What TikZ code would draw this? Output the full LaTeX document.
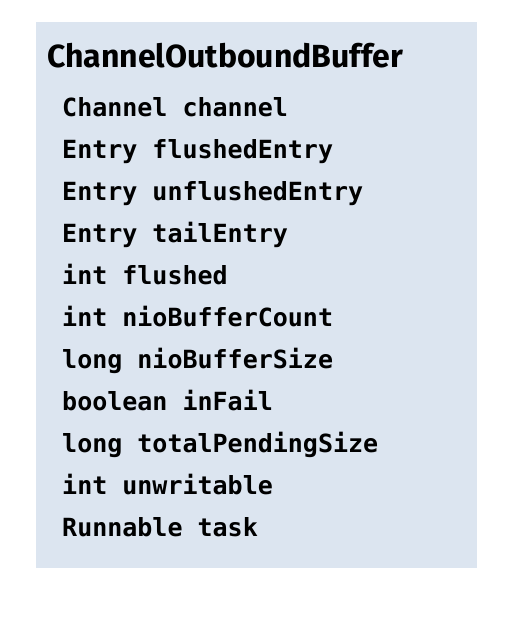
\documentclass[tikz,border=0pt]{standalone}
\usepackage{fontspec}
\setmainfont{Fira Sans}
\newfontfamily\titlefont{Fira Sans}
\newfontfamily\fieldfont{DejaVu Sans Mono}
\definecolor{boxfill}{HTML}{DCE5F0}
\begin{document}
\begin{tikzpicture}[x=1pt,y=-1pt,
  titletext/.style={anchor=base west,inner sep=0pt,font=\titlefont\bfseries\fontsize{32}{32}\selectfont},
  fieldtext/.style={anchor=base west,inner sep=0pt,font=\fieldfont\bfseries\fontsize{25}{25}\selectfont}]
\useasboundingbox (0,0) rectangle (506,619);
\fill[boxfill] (36,22) rectangle (477,568);
\node[titletext] (title) at (47,67) {ChannelOutboundBuffer};
\foreach \t [count=\i from 0] in {Channel channel,Entry flushedEntry,Entry unflushedEntry,Entry tailEntry,int flushed,int nioBufferCount,long nioBufferSize,boolean inFail,long totalPendingSize,int unwritable,Runnable task}
  \node[fieldtext] (f\i) at (62,116+42*\i) {\t};
\end{tikzpicture}
\end{document}
